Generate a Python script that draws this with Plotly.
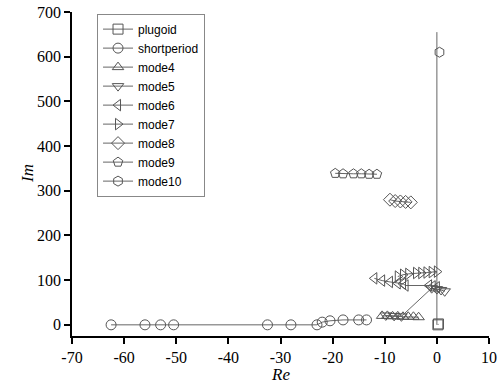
import plotly.graph_objects as go

# ---- data (Re, Im) ----
plugoid_re = [0.2, 0.3]
plugoid_im = [0.0, 2.0]

short_re = [-62.5, -56.0, -53.0, -50.5, -32.5, -28.0, -23.0, -22.0, -20.5, -18.0, -15.0, -13.5]
short_im = [0.0, 0.0, 0.0, 0.0, 0.0, 0.0, 0.0, 6.0, 9.0, 11.0, 11.0, 11.0]

mode4_re = [-10.5, -9.5, -8.5, -7.5, -6.5, -5.5, -4.5, -3.5]
mode4_im = [20.0, 20.0, 19.0, 19.0, 18.0, 18.0, 18.0, 17.0]

mode5_re = [-9.8, -8.2, -6.8, -1.0, 0.0, 0.8, 1.5]
mode5_im = [21.0, 20.0, 19.0, 82.0, 80.0, 78.0, 75.0]

mode6_re = [-12.0, -10.5, -9.0, -7.5, -6.5, -6.0, -1.5, -0.8, 0.0]
mode6_im = [104.0, 99.0, 96.0, 93.0, 92.0, 88.0, 88.0, 86.0, 84.0]

mode7_re = [-7.5, -6.5, -5.5, -4.0, -3.0, -2.0, -1.0, 0.0]
mode7_im = [108.0, 112.0, 114.0, 116.0, 116.0, 117.0, 118.0, 119.0]

mode8_re = [-9.0, -8.0, -7.0, -6.0, -5.0]
mode8_im = [280.0, 277.0, 276.0, 275.0, 274.0]

mode9_re = [-19.5, -18.0, -16.0, -14.5, -13.0, -11.5]
mode9_im = [339.0, 338.0, 338.0, 338.0, 337.0, 337.0]

mode10_re = [0.5]
mode10_im = [610.0]

vline_re = [0.0, 0.0]
vline_im = [655.0, 0.0]

series = [
    ("plugoid", plugoid_re, plugoid_im, "square-open"),
    ("shortperiod", short_re, short_im, "circle-open"),
    ("mode4", mode4_re, mode4_im, "triangle-up-open"),
    ("mode5", mode5_re, mode5_im, "triangle-down-open"),
    ("mode6", mode6_re, mode6_im, "triangle-left-open"),
    ("mode7", mode7_re, mode7_im, "triangle-right-open"),
    ("mode8", mode8_re, mode8_im, "diamond-open"),
    ("mode9", mode9_re, mode9_im, "pentagon-open"),
    ("mode10", mode10_re, mode10_im, "hexagon-open"),
]

x_ticks = [-70, -60, -50, -40, -30, -20, -10, 0, 10]
y_ticks = [0, 100, 200, 300, 400, 500, 600, 700]

fig = go.Figure()
fig.add_trace(go.Scatter(
    x=vline_re, y=vline_im, mode="lines",
    line=dict(color="#666666", width=1), showlegend=False, hoverinfo="skip"))
for name, xs, ys, sym in series:
    fig.add_trace(go.Scatter(
        x=xs, y=ys, name=name, mode="lines+markers",
        line=dict(color="#666666", width=1),
        marker=dict(symbol=sym, size=10, color="#555555", line=dict(width=1))))

fig.update_layout(
    width=503, height=386,
    margin=dict(l=72, r=14, t=12, b=50),
    paper_bgcolor="white", plot_bgcolor="white",
    font=dict(family="Liberation Serif", size=16, color="black"),
    showlegend=True,
    legend=dict(
        x=0.06, y=0.995, xanchor="left", yanchor="top",
        bgcolor="white", bordercolor="#888888", borderwidth=1,
        font=dict(family="Liberation Sans", size=12, color="black"),
        tracegroupgap=0, itemwidth=30,
    ),
    xaxis=dict(
        range=[-70, 10], tickvals=x_ticks, ticktext=[str(v) for v in x_ticks],
        showgrid=False, zeroline=False, showline=True, linecolor="black", linewidth=1.5,
        ticks="outside", ticklen=6, tickwidth=1.5, tickcolor="black", automargin=False,
    ),
    yaxis=dict(
        range=[-25, 700], tickvals=y_ticks, ticktext=[str(v) for v in y_ticks],
        showgrid=False, zeroline=False, showline=True, linecolor="black", linewidth=1.5,
        ticks="outside", ticklen=6, tickwidth=1.5, tickcolor="black", automargin=False,
    ),
    annotations=[
        dict(text="<i>Re</i>", xref="paper", yref="paper", x=0.5, y=0,
             yshift=-38, showarrow=False, xanchor="center", yanchor="middle",
             font=dict(family="Liberation Serif", size=17, color="black")),
        dict(text="<i>Im</i>", xref="paper", yref="paper", x=0, y=0.5,
             xshift=-45, showarrow=False, xanchor="center", yanchor="middle",
             textangle=-90,
             font=dict(family="Liberation Serif", size=17, color="black")),
    ],
)

fig.write_html("out.html")
